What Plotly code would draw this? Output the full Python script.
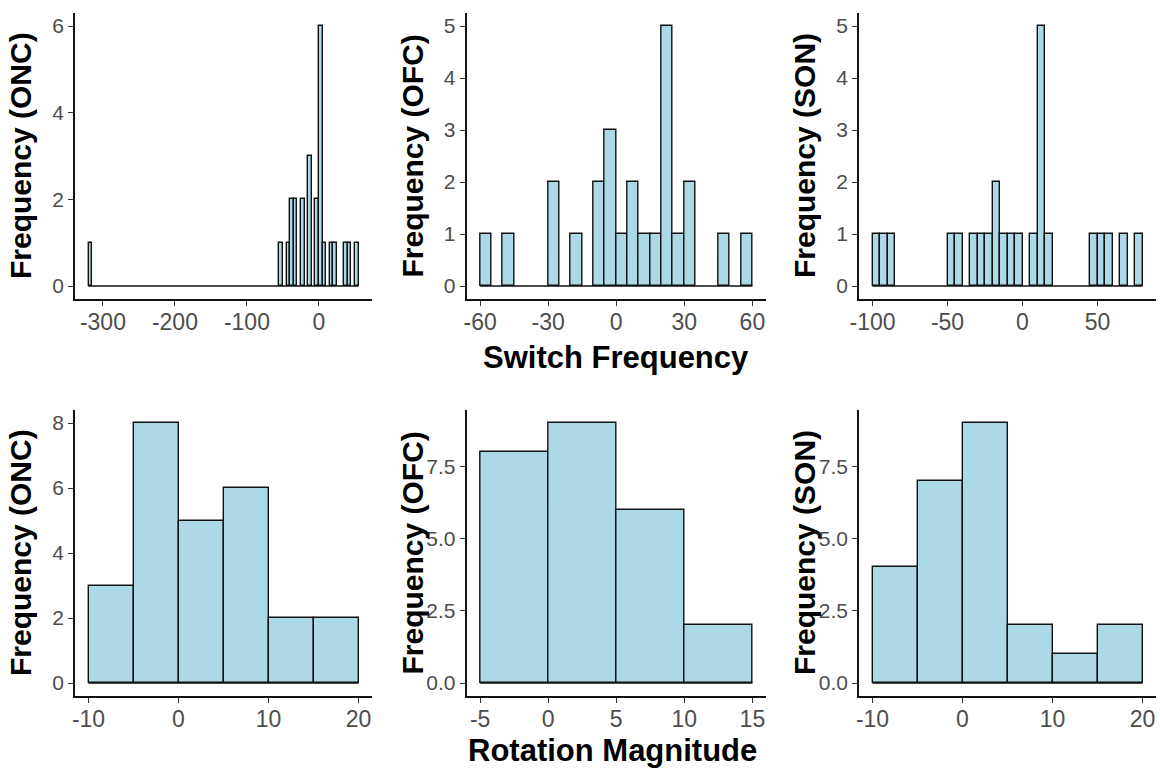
import plotly.graph_objects as go

# ---- data: histogram bins (left edge, count), bin width 5 ----
BIN_W = 5

onc_switch_left = [-320, -55, -45, -40, -35, -25, -15, -5, 0, 5, 15, 20, 35, 40, 50]
onc_switch_count = [1, 1, 1, 2, 2, 2, 3, 2, 6, 1, 1, 1, 1, 1, 1]

ofc_switch_left = [-60, -50, -30, -20, -10, -5, 0, 5, 10, 15, 20, 25, 30, 45, 55]
ofc_switch_count = [1, 1, 2, 1, 2, 3, 1, 2, 1, 1, 5, 1, 2, 1, 1]

son_switch_left = [-100, -95, -90, -50, -45, -35, -30, -25, -20, -15, -10, -5,
                   5, 10, 15, 45, 50, 55, 65, 75]
son_switch_count = [1, 1, 1, 1, 1, 1, 1, 1, 2, 1, 1, 1, 1, 5, 1, 1, 1, 1, 1, 1]

onc_rot_left = [-10, -5, 0, 5, 10, 15]
onc_rot_count = [3, 8, 5, 6, 2, 2]

ofc_rot_left = [-5, 0, 5, 10]
ofc_rot_count = [8, 9, 6, 2]

son_rot_left = [-10, -5, 0, 5, 10, 15]
son_rot_count = [4, 7, 9, 2, 1, 2]

# tick positions / labels
x_ticks_onc_sw = [-300, -200, -100, 0]
x_ticks_ofc_sw = [-60, -30, 0, 30, 60]
x_ticks_son_sw = [-100, -50, 0, 50]
x_ticks_rot_wide = [-10, 0, 10, 20]
x_ticks_rot_ofc = [-5, 0, 5, 10, 15]
y_ticks_6 = [0, 2, 4, 6]
y_ticks_5 = [0, 1, 2, 3, 4, 5]
y_ticks_8 = [0, 2, 4, 6, 8]
y_ticks_75 = [0, 2.5, 5, 7.5]
y_ticklabels_75 = ["0.0", "2.5", "5.0", "7.5"]

W, H = 1160, 769
FILL = "#ADD8E6"
FONT = "Liberation Sans, Arial, sans-serif"
TICK_COLOR = "#4D4D4D"
EDGE = "#111111"


def plain_labels(vals):
    # ASCII hyphen for negatives
    return [str(v) for v in vals]


panels = [
    # (lefts, counts, x-ticks, y-ticks, y-ticklabels, ylabel, x px range, y px range)
    (onc_switch_left, onc_switch_count, x_ticks_onc_sw, y_ticks_6, None, "Frequency (ONC)", (75, 372), (13, 299)),
    (ofc_switch_left, ofc_switch_count, x_ticks_ofc_sw, y_ticks_5, None, "Frequency (OFC)", (466.5, 766), (13, 299)),
    (son_switch_left, son_switch_count, x_ticks_son_sw, y_ticks_5, None, "Frequency (SON)", (859, 1156), (13, 299)),
    (onc_rot_left, onc_rot_count, x_ticks_rot_wide, y_ticks_8, None, "Frequency (ONC)", (75, 372), (410, 696)),
    (ofc_rot_left, ofc_rot_count, x_ticks_rot_ofc, y_ticks_75, y_ticklabels_75, "Frequency (OFC)", (466.5, 766), (410, 696)),
    (son_rot_left, son_rot_count, x_ticks_rot_wide, y_ticks_75, y_ticklabels_75, "Frequency (SON)", (859, 1156), (410, 696)),
]

fig = go.Figure()
layout = dict(
    width=W, height=H,
    margin=dict(l=0, r=0, t=0, b=0, autoexpand=False),
    paper_bgcolor="white", plot_bgcolor="white",
    showlegend=False,
    bargap=0,
    font=dict(family=FONT),
)
annotations = []

for i, (lefts, counts, xt, yt, ytl, ylab, (px0, px1), (py0, py1)) in enumerate(panels, start=1):
    xa = "x" if i == 1 else f"x{i}"
    ya = "y" if i == 1 else f"y{i}"
    centers = [l + BIN_W / 2 for l in lefts]
    lo = min(lefts)
    hi = max(lefts) + BIN_W
    ymax = max(counts)
    xpad = (hi - lo) * 0.05
    ypad = ymax * 0.05

    # zero-count baseline across the binned range
    fig.add_trace(go.Scatter(
        x=[lo, hi], y=[0, 0], mode="lines",
        line=dict(color=EDGE, width=1.4),
        xaxis=xa, yaxis=ya, hoverinfo="skip",
    ))
    fig.add_trace(go.Bar(
        x=centers, y=counts, width=[BIN_W] * len(centers),
        marker=dict(color=FILL, line=dict(color=EDGE, width=1.4)),
        xaxis=xa, yaxis=ya,
    ))

    axis_common = dict(
        showline=True, linecolor=EDGE, linewidth=1.5,
        ticks="outside", ticklen=5, tickwidth=1.2, tickcolor="#333333",
        showgrid=False, zeroline=False, automargin=False,
        fixedrange=True,
    )
    xkey = "xaxis" if i == 1 else f"xaxis{i}"
    ykey = "yaxis" if i == 1 else f"yaxis{i}"
    layout[xkey] = dict(
        axis_common,
        domain=[px0 / W, px1 / W],
        range=[lo - xpad, hi + xpad],
        tickmode="array", tickvals=xt, ticktext=plain_labels(xt),
        tickfont=dict(family=FONT, size=23, color=TICK_COLOR),
        ticklabelstandoff=-3,
        anchor=ya,
    )
    layout[ykey] = dict(
        axis_common,
        domain=[1 - py1 / H, 1 - py0 / H],
        range=[-ypad, ymax + ypad],
        tickmode="array", tickvals=yt,
        ticktext=ytl if ytl is not None else plain_labels(yt),
        tickfont=dict(family=FONT, size=21, color=TICK_COLOR),
        ticklabelstandoff=0,
        anchor=xa,
    )

    # y-axis title
    annotations.append(dict(
        text=ylab, textangle=-90,
        x=(px0 - 55) / W, y=1 - ((py0 + py1) / 2) / H,
        xref="paper", yref="paper", xanchor="center", yanchor="middle",
        showarrow=False,
        font=dict(family=FONT, size=30, color="black", weight="bold"),
    ))

# shared x-axis titles
annotations.append(dict(
    text="Switch Frequency", x=616 / W, y=1 - 357 / H,
    xref="paper", yref="paper", xanchor="center", yanchor="middle",
    showarrow=False, font=dict(family=FONT, size=31, color="black", weight="bold"),
))
annotations.append(dict(
    text="Rotation Magnitude", x=612 / W, y=1 - 750 / H,
    xref="paper", yref="paper", xanchor="center", yanchor="middle",
    showarrow=False, font=dict(family=FONT, size=31, color="black", weight="bold"),
))

layout["annotations"] = annotations
fig.update_layout(**layout)
fig.write_html("out.html")
